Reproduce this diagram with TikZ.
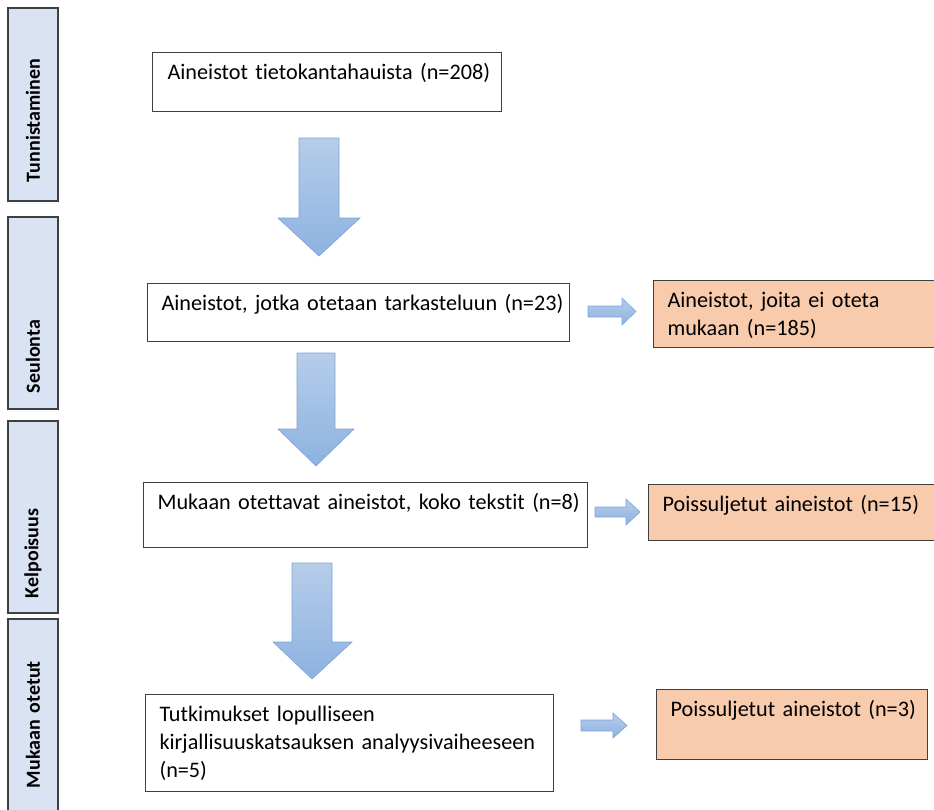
\documentclass[tikz,border=0pt]{standalone}
\usepackage{fontspec}
\setmainfont{Carlito}[Ligatures=NoCommon]

\definecolor{boxline}{RGB}{64,64,64}
\definecolor{salmon}{RGB}{248,203,173}
\definecolor{phasefill}{RGB}{218,227,243}
\definecolor{arrowtop}{RGB}{182,205,234}
\definecolor{arrowbottom}{RGB}{141,178,224}
\definecolor{arrowline}{RGB}{125,165,215}

\begin{document}
\begin{tikzpicture}[x=1pt, y=-1pt, font=\fontsize{22.2}{28}\selectfont]

% Styles
\tikzstyle{box}    = [draw=boxline, line width=1.1pt, rectangle, anchor=north west, align=left, inner xsep=14pt, inner ysep=0pt, text height=27pt]
\tikzstyle{excl}   = [box, fill=salmon]
\tikzstyle{phase}  = [draw=boxline, line width=1.1pt, fill=phasefill, rectangle, rotate=90, align=left, minimum height=50pt, inner xsep=16pt, font=\fontsize{20}{24}\selectfont\bfseries]
\tikzstyle{barrow} = [draw=arrowline, line width=0.6pt, top color=arrowtop, bottom color=arrowbottom]

\path [use as bounding box] (0,0) rectangle (934,809);
\clip (0,0) rectangle (934,809);

% Phases
\node [phase, minimum width=193pt, text width=155pt, inner xsep=19pt] (tunn) at (33,104.5) {Tunnistaminen};
\node [phase, minimum width=192pt, text width=160pt] (seul) at (33,313) {Seulonta};
\node [phase, minimum width=192pt, text width=162pt, inner xsep=15pt] (kelp) at (33,517) {Kelpoisuus};
\node [phase, minimum width=192pt, text width=146pt, inner xsep=23pt] (muk) at (33,715) {Mukaan otetut};

% Nodes
\node [box, text width=319pt, text depth=32pt, inner xsep=15pt] (search) at (152,52) {\mbox{Aineistot tietokantahauista (n=208)}};
\node [box, text width=394pt, text depth=31pt] (screen) at (147,283) {\mbox{Aineistot, jotka otetaan tarkasteluun (n=23)}};
\node [box, text width=416pt, text depth=38pt] (full) at (143,482) {\mbox{Mukaan otettavat aineistot, koko tekstit (n=8)}};
\node [box, text width=380pt, text depth=70pt] (final) at (145,694) {Tutkimukset lopulliseen\\\mbox{kirjallisuuskatsauksen analyysivaiheeseen}\\(n=5)};

\node [excl, text width=272pt, text depth=40pt] (out1) at (653,280) {Aineistot, joita ei oteta\\mukaan (n=185)};
\node [excl, text width=272pt, text depth=29pt] (out2) at (648,484) {\mbox{Poissuljetut aineistot (n=15)}};
\node [excl, text width=243pt, text depth=43pt] (out3) at (656,689) {\mbox{Poissuljetut aineistot (n=3)}};

% Down arrows
\path [barrow] (299,138) -- (339,138) -- (339,218) -- (360,218) -- (319,256) -- (278,218) -- (299,218) -- cycle;
\path [barrow] (297,353) -- (335,353) -- (335,429) -- (354,429) -- (316,466) -- (278,429) -- (297,429) -- cycle;
\path [barrow] (292,563) -- (332,563) -- (332,642) -- (352,642) -- (312,679) -- (273,642) -- (292,642) -- cycle;

% Side arrows
\path [barrow] (588,306) -- (622,306) -- (622,298) -- (636,311.5) -- (622,325) -- (622,317) -- (588,317) -- cycle;
\path [barrow] (595,507) -- (626,507) -- (626,499) -- (640,512) -- (626,525) -- (626,517) -- (595,517) -- cycle;
\path [barrow] (581,720) -- (613,720) -- (613,713) -- (627,725.5) -- (613,738) -- (613,731) -- (581,731) -- cycle;

\end{tikzpicture}
\end{document}
